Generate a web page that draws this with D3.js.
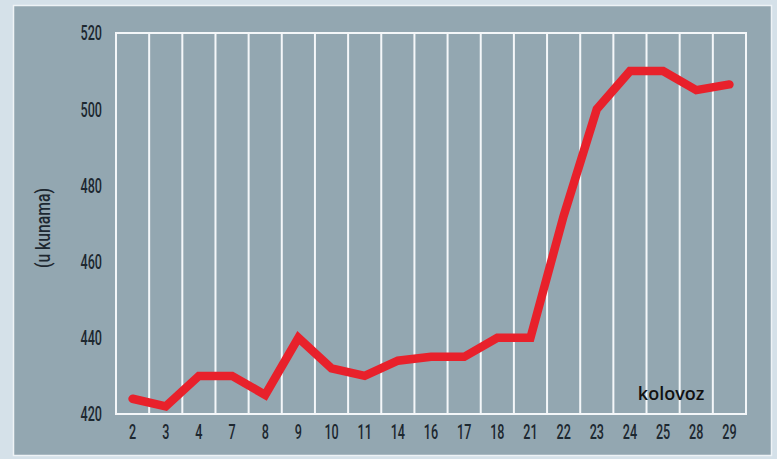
<!DOCTYPE html>
<html>
<head>
<meta charset="utf-8">
<script src="https://cdn.jsdelivr.net/npm/d3@7"></script>
<style>
  body { margin: 0; background: #d5e1e9; }
  .tick-label { font-family: Roboto, "DejaVu Sans", sans-serif; font-size: 21px; font-weight: 500; fill: #1d2830; }
</style>
</head>
<body>
<div id="vis"></div>
<script>
// frame size and margins of the plot area
const FRAME_WIDTH = 777;
const FRAME_HEIGHT = 459;
const MARGINS = {left: 116, right: 31, top: 33, bottom: 45};

// data
const days = ["2", "3", "4", "7", "8", "9", "10", "11", "14", "16", "17", "18", "21", "22", "23", "24", "25", "28", "29"];
const prices = [424, 422, 430, 430, 425, 440, 432, 430, 434, 435, 435, 440, 440, 472, 500, 510, 510, 505, 506.5];
const yTicks = [420, 440, 460, 480, 500, 520];

// labels are drawn narrow, like the condensed face of the original
const SQUEEZE = 0.6;

const VIS_WIDTH = FRAME_WIDTH - MARGINS.left - MARGINS.right;
const VIS_HEIGHT = FRAME_HEIGHT - MARGINS.top - MARGINS.bottom;

const svg = d3.select("#vis")
  .append("svg")
    .attr("width", FRAME_WIDTH)
    .attr("height", FRAME_HEIGHT);

// panel
svg.append("rect")
  .attr("x", 13.5).attr("y", 5.5)
  .attr("width", 758).attr("height", 450)
  .attr("fill", "#93a7b1")
  .attr("stroke", "#eef3f6")
  .attr("stroke-width", 1.5);

const X_SCALE = d3.scaleBand()
  .domain(days)
  .range([0, VIS_WIDTH]);

const Y_SCALE = d3.scaleLinear()
  .domain([420, 520])
  .range([VIS_HEIGHT, 0]);

const plot = svg.append("g")
  .attr("transform", "translate(" + MARGINS.left + "," + MARGINS.top + ")");

// vertical grid lines at band edges
plot.selectAll(".grid")
  .data(days.slice(1))
  .enter()
  .append("line")
    .attr("x1", (d) => X_SCALE(d))
    .attr("x2", (d) => X_SCALE(d))
    .attr("y1", 0)
    .attr("y2", VIS_HEIGHT)
    .attr("stroke", "#f4f7f9")
    .attr("stroke-width", 2);

// frame
plot.append("rect")
  .attr("x", 0).attr("y", 0)
  .attr("width", VIS_WIDTH).attr("height", VIS_HEIGHT)
  .attr("fill", "none")
  .attr("stroke", "#f4f7f9")
  .attr("stroke-width", 2);

// y axis labels
plot.selectAll(".ylab")
  .data(yTicks)
  .enter()
  .append("text")
    .attr("class", "tick-label")
    .attr("transform", (d) => "translate(-14," + Y_SCALE(d) + ") scale(" + SQUEEZE + ",1)")
    .attr("dy", "0.35em")
    .attr("text-anchor", "end")
    .text((d) => d);

// x axis labels
plot.selectAll(".xlab")
  .data(days)
  .enter()
  .append("text")
    .attr("class", "tick-label")
    .attr("transform", (d) => "translate(" + (X_SCALE(d) + X_SCALE.bandwidth() / 2) + "," + (VIS_HEIGHT + 18) + ") scale(" + SQUEEZE + ",1)")
    .attr("dy", "0.35em")
    .attr("text-anchor", "middle")
    .text((d) => d);

// y axis title
svg.append("text")
  .attr("class", "tick-label")
  .attr("font-size", "18px")
  .attr("transform", "translate(50,228) rotate(-90) scale(0.75,1)")
  .attr("text-anchor", "middle")
  .text("(u kunama)");

// month label
plot.append("text")
  .attr("x", X_SCALE("25") + X_SCALE.bandwidth() / 2 + 8)
  .attr("y", VIS_HEIGHT - 14)
  .attr("text-anchor", "middle")
  .attr("font-family", "'Open Sans', sans-serif")
  .attr("font-size", "18px")
  .attr("font-weight", 600)
  .attr("fill", "#111")
  .text("kolovoz");

// price line
const line = d3.line()
  .x((d, i) => X_SCALE(days[i]) + X_SCALE.bandwidth() / 2)
  .y((d) => Y_SCALE(d));

plot.append("path")
  .datum(prices)
  .attr("d", line)
  .attr("fill", "none")
  .attr("stroke", "#e8212b")
  .attr("stroke-width", 8.5)
  .attr("stroke-linejoin", "miter")
  .attr("stroke-linecap", "round");
</script>
</body>
</html>
